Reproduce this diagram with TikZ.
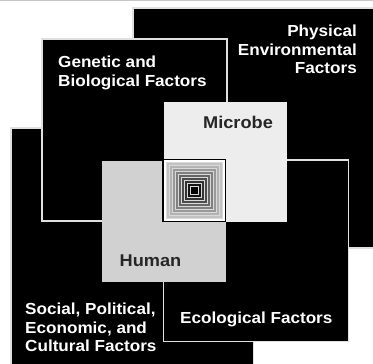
\documentclass[tikz,border=0pt]{standalone}
\usepackage{fontspec}
\setmainfont[FakeStretch=1.07]{Liberation Sans}
\begin{document}
\begin{tikzpicture}[x=1pt,y=-1pt,
  factorbox/.style={fill=black,draw=white!88!black,line width=1.3pt},
  innerbox/.style={line width=0.6pt},
  factorlabel/.style={text=white,inner sep=0pt,font=\fontsize{16}{18.6}\selectfont\bfseries},
  playerlabel/.style={text=black!85,inner sep=0pt,font=\fontsize{17}{20}\selectfont\bfseries}]
\path[use as bounding box] (0,0) rectangle (373,364);
\clip (0,0) rectangle (373,364);
\fill[white] (0,0) rectangle (373,364);
\draw[black!22,line width=1.2pt] (0,0.6) -- (373,0.6);
% outer factor squares
\draw[factorbox] (133,8) rectangle (378,248);
\draw[factorbox] (11,128) rectangle (253.3,370);
\draw[factorbox] (42,39) rectangle (227,221);
\draw[factorbox] (163.5,160) rectangle (348.3,341.7);
% microbe and human
\draw[innerbox,fill=black!7,draw=black!7] (164,102) rectangle (286.7,221.7);
\draw[innerbox,fill=black!18,draw=black!18] (102,161) rectangle (225,281.7);
% centre
\draw[fill=white,draw=black,line width=1.6pt] (163,159.5) rectangle (225.5,221.5);
\foreach \h/\g in {28/76,25/70,22/60,19/50,16/40,13/30,10/20,7/8,4/0}{
  \draw[fill=black!\the\numexpr100-\g\relax,draw=white!85!black,line width=0.35pt]
    (194.2-\h,190.5-\h) rectangle (194.2+\h,190.5+\h);
}
% labels
\node[factorlabel,anchor=north east,align=right] (phys) at (357,25) {Physical\\Environmental\\Factors};
\node[factorlabel,anchor=north west,align=left] (gen) at (58,56) {Genetic and\\Biological Factors};
\node[factorlabel,anchor=north west,align=left] (soc) at (25,303) {Social, Political,\\Economic, and\\Cultural Factors};
\node[factorlabel,anchor=north west] (eco) at (180,312) {Ecological Factors};
\node[playerlabel,anchor=north] (mic) at (238,116) {Microbe};
\node[playerlabel,anchor=north] (hum) at (150.5,255) {Human};
\end{tikzpicture}
\end{document}
